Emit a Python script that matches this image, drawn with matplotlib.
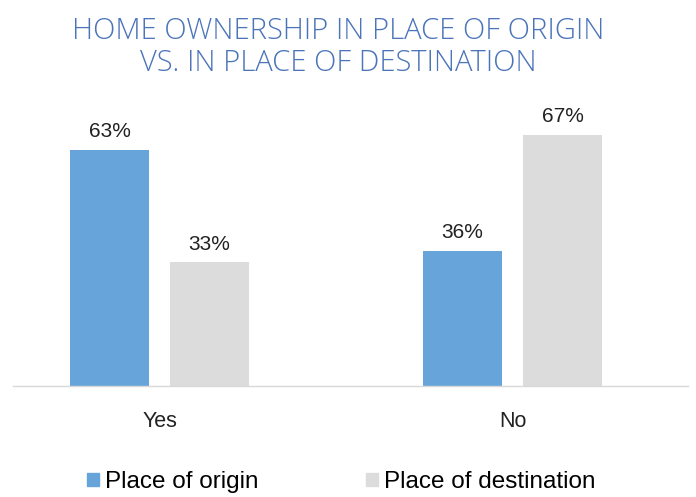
import numpy as np
import matplotlib.pyplot as plt
from matplotlib.patches import Patch

categories = ['Yes', 'No']
origin = [63, 36]
destination = [33, 67]
series_names = ['Place of origin', 'Place of destination']

blue = '#67a4da'
gray = '#dcdcdc'
title_color = '#4b74b9'

plt.rcParams['font.family'] = ['Liberation Sans', 'DejaVu Sans']

fig = plt.figure(figsize=(6.96, 4.97), dpi=100)
ax = fig.add_axes([0.0187, 0.2233, 0.97, 0.576])

x = np.arange(len(categories))
w = 0.224
off = 0.1416
b1 = ax.bar(x - off, origin, w, color=blue)
b2 = ax.bar(x + off, destination, w, color=gray)

for bars, vals in [(b1, origin), (b2, destination)]:
    for b, v in zip(bars, vals):
        ax.text(b.get_x() + b.get_width() / 2, v + 2.3, f'{v}%',
                ha='center', va='bottom', fontsize=15, color='#222222')

ax.set_xlim(-0.415, 1.497)
ax.set_ylim(0, 76.3)
ax.set_xticks(x)
ax.set_xticklabels(categories, fontsize=15.5, color='#222222')
ax.tick_params(axis='x', length=0, pad=18)
ax.set_yticks([])
for s in ['top', 'right', 'left']:
    ax.spines[s].set_visible(False)
ax.spines['bottom'].set_color('#d8d8d8')
ax.spines['bottom'].set_linewidth(1)

fig.text(0.486, 0.905, 'HOME OWNERSHIP IN PLACE OF ORIGIN\nVS. IN PLACE OF DESTINATION',
         ha='center', va='center', fontsize=21, color=title_color,
         linespacing=1.1, fontweight=300, family=['Open Sans', 'DejaVu Sans'])

handles = [Patch(color=blue), Patch(color=gray)]
fig.legend(handles, series_names, loc='center', bbox_to_anchor=(0.49, 0.03),
           ncol=2, frameon=False, fontsize=17.5, handlelength=0.5, handleheight=0.5,
           handletextpad=0.25, columnspacing=4.4)

fig.savefig('out.png', dpi=100)
